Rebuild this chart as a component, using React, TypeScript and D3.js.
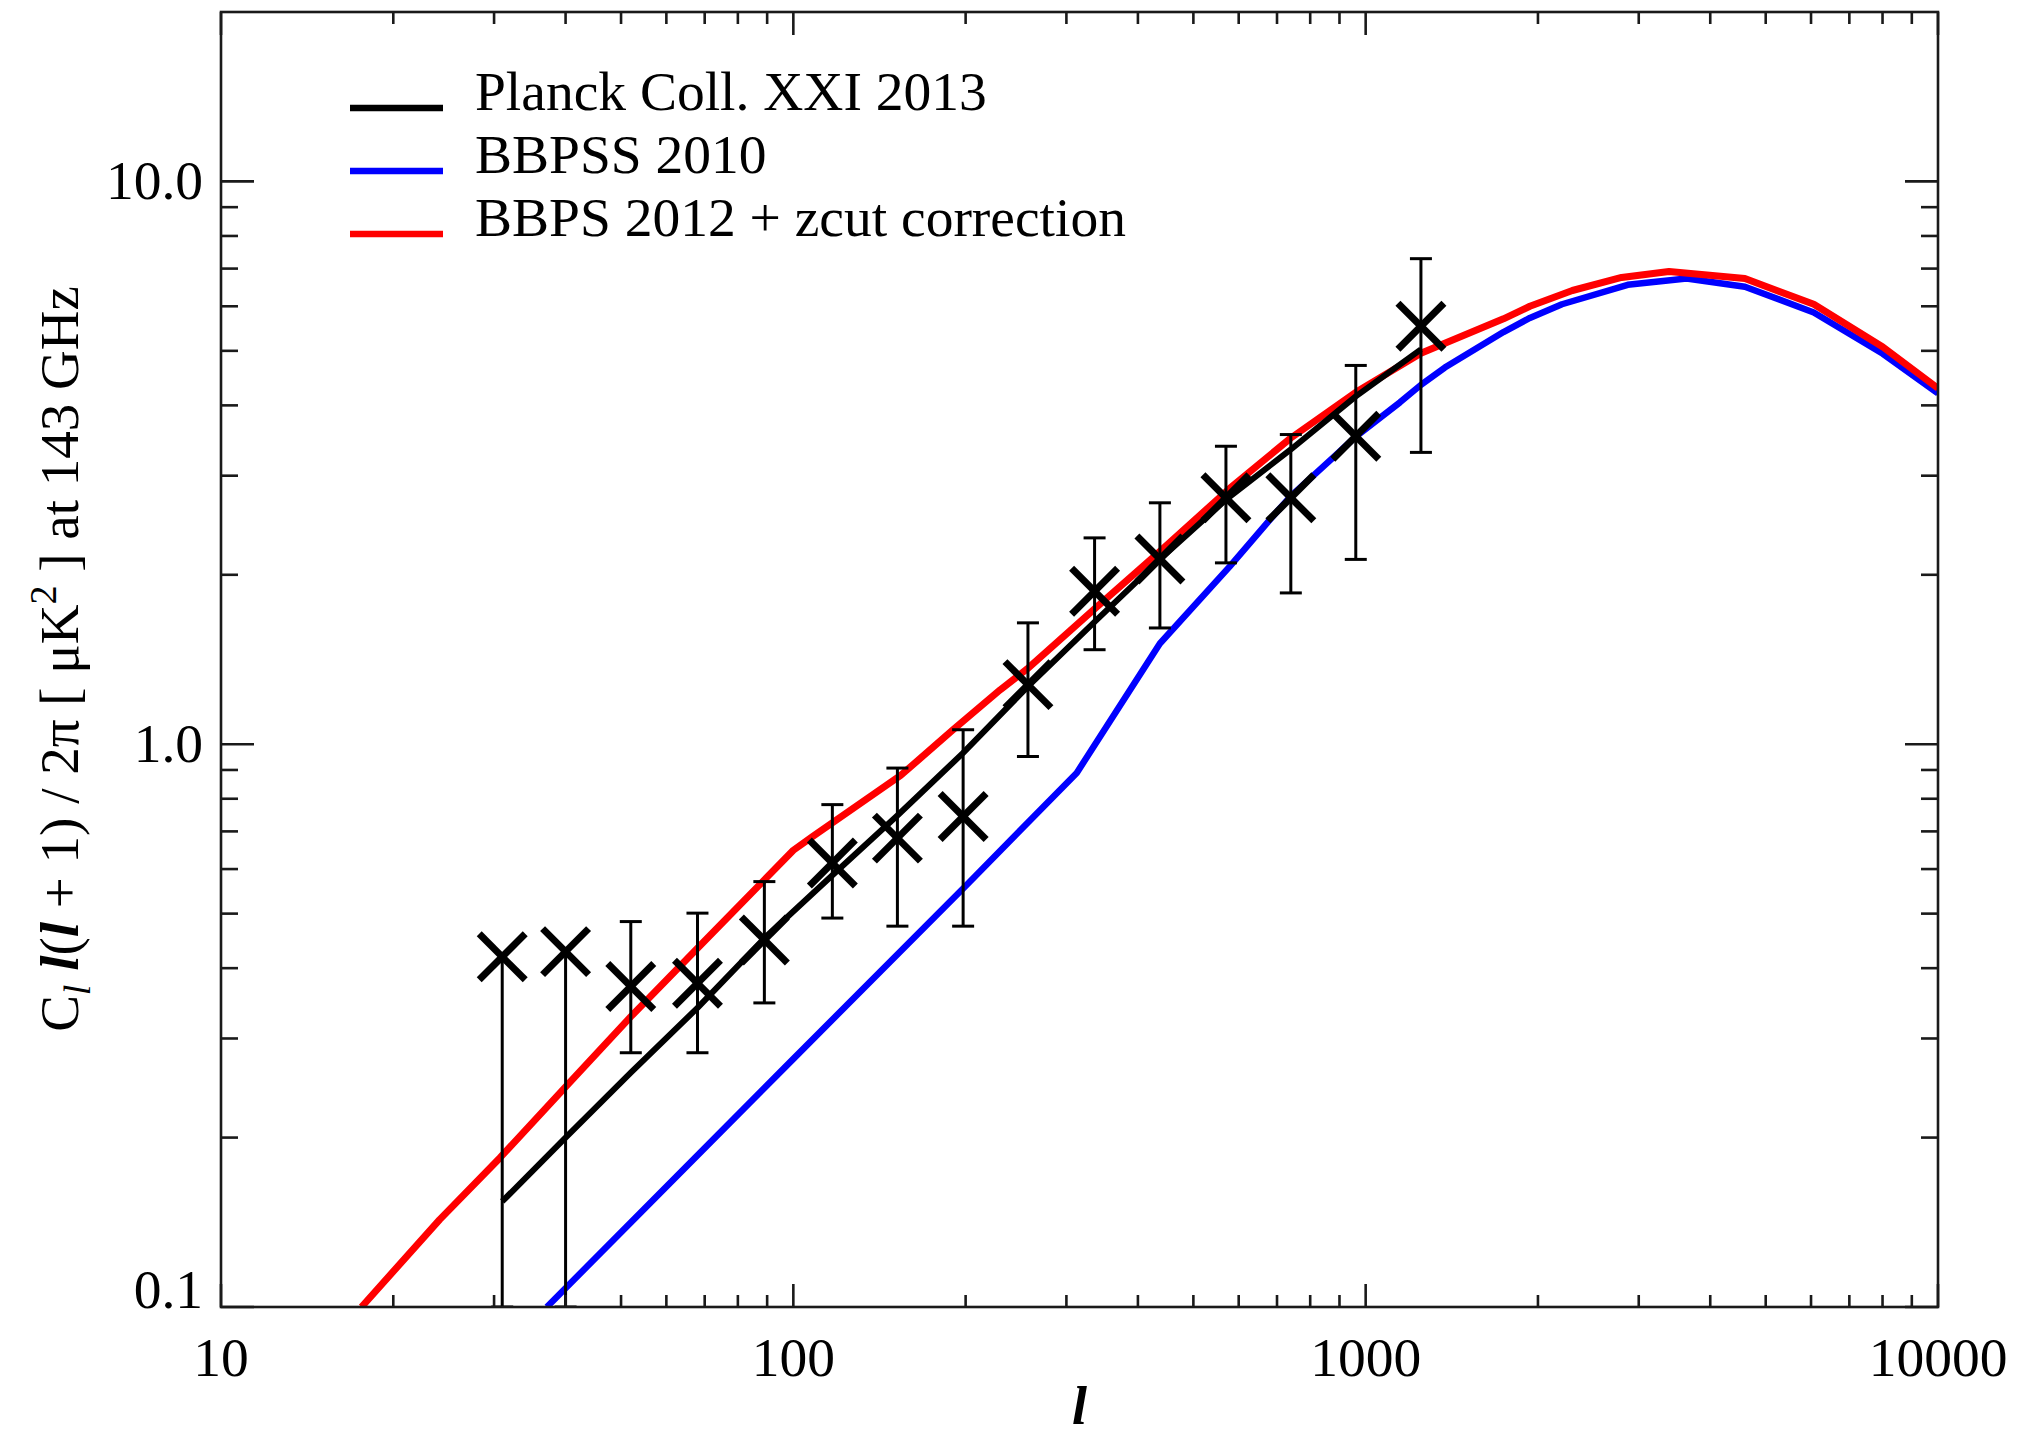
import React from "react";
import * as d3 from "d3";

// ---- data ----
const binL = [31, 40, 52, 68, 89, 117, 152, 198, 257, 336, 437, 570, 740, 961, 1249];
const planckPts = [0.419, 0.428, 0.371, 0.376, 0.449, 0.615, 0.681, 0.744, 1.276, 1.869, 2.134, 2.74, 2.74, 3.526, 5.53];
const planckHi: (number | null)[] = [null, null, 0.484, 0.501, 0.57, 0.781, 0.907, 1.061, 1.643, 2.326, 2.685, 3.384, 3.55, 4.71, 7.29];
const planckLo = [0.1, 0.1, 0.283, 0.283, 0.347, 0.491, 0.475, 0.475, 0.951, 1.472, 1.609, 2.1, 1.857, 2.13, 3.3];

const planckModel = [0.154, 0.2, 0.261, 0.34, 0.452, 0.585, 0.747, 0.965, 1.267, 1.65, 2.13, 2.72, 3.34, 4.15, 5.03];

const blueL = [37.1, 100, 200, 312.7, 437, 579, 681, 740, 877, 961, 1148, 1249, 1375, 1741, 1936, 2203, 2870, 3637, 4598, 6067, 8010, 10000];
const blueV = [0.1, 0.276, 0.56, 0.889, 1.51, 2.07, 2.51, 2.76, 3.23, 3.52, 4.05, 4.35, 4.67, 5.4, 5.72, 6.05, 6.55, 6.72, 6.5, 5.85, 4.94, 4.2];

const redL = [17.6, 24.1, 30.7, 40, 52, 68, 89, 100, 108, 154, 190, 230, 256, 336, 437, 579, 740, 961, 1249, 1741, 1936, 2297, 2800, 3388, 4598, 6067, 8010, 10000];
const redV = [0.1, 0.143, 0.184, 0.246, 0.328, 0.434, 0.574, 0.648, 0.685, 0.88, 1.06, 1.25, 1.36, 1.74, 2.2, 2.85, 3.5, 4.22, 4.95, 5.7, 6.0, 6.4, 6.75, 6.92, 6.72, 6.05, 5.08, 4.29];

const xMajor = [10, 100, 1000, 10000];
const xMajorLabels = ["10", "100", "1000", "10000"];
const yMajor = [0.1, 1, 10];
const yMajorLabels = ["0.1", "1.0", "10.0"];

const legendItems = [
  { label: "Planck Coll. XXI 2013", color: "#000000" },
  { label: "BBPSS 2010", color: "#0000ff" },
  { label: "BBPS 2012 + zcut correction", color: "#ff0000" },
];

const W = 2019;
const H = 1438;
const left = 221;
const right = 1938;
const top = 12;
const bottom = 1307;
const FONT = "'Liberation Serif', 'Times New Roman', serif";

export default function App() {
  const x = d3.scaleLog().domain([10, 10000]).range([left, right]);
  const y = d3.scaleLog().domain([0.1, 20]).range([bottom, top]);

  const line = d3
    .line<[number, number]>()
    .x((d) => x(d[0]))
    .y((d) => y(d[1]));

  const redPath = line(redL.map((l, i) => [l, redV[i]] as [number, number])) || "";
  const bluePath = line(blueL.map((l, i) => [l, blueV[i]] as [number, number])) || "";
  const blackPath = line(binL.map((l, i) => [l, planckModel[i]] as [number, number])) || "";

  // minor ticks
  const xMinor: number[] = [];
  for (let dec = 10; dec < 10000; dec *= 10) for (let k = 2; k <= 9; k++) xMinor.push(dec * k);
  const yMinor: number[] = [];
  for (let dec = 0.1; dec < 20; dec *= 10)
    for (let k = 2; k <= 9; k++) {
      const v = +(dec * k).toPrecision(3);
      if (v < 20) yMinor.push(v);
    }

  const tickColor = "#1a1a1a";
  const tw = 2.6;
  const fs = 55.5;
  const cross = 23;
  const cap = 11;

  return (
    <svg
      width={W}
      height={H}
      style={{ position: "absolute", left: 0, top: 0, display: "block", background: "#fff" }}
      fontFamily={FONT}
    >
      <defs>
        <clipPath id="plotClip">
          <rect x={left} y={top} width={right - left} height={bottom - top} />
        </clipPath>
      </defs>
      <rect x={0} y={0} width={W} height={H} fill="#fff" />

      {/* curves */}
      <g clipPath="url(#plotClip)" fill="none" strokeLinejoin="round">
        <path d={bluePath} stroke="#0000ff" strokeWidth={6.5} />
        <path d={redPath} stroke="#ff0000" strokeWidth={7} />
        <path d={blackPath} stroke="#000000" strokeWidth={6} />
      </g>

      {/* error bars */}
      <g stroke="#000" strokeWidth={3} clipPath="url(#plotClip)">
        {binL.map((l, i) => {
          const cx = x(l);
          const hi = planckHi[i];
          const yTop = hi == null ? y(planckPts[i]) : y(hi);
          const yBot = y(planckLo[i]);
          return (
            <g key={"eb" + i}>
              <line x1={cx} x2={cx} y1={yTop} y2={yBot} />
              {hi != null && <line x1={cx - cap} x2={cx + cap} y1={yTop} y2={yTop} />}
              <line x1={cx - cap} x2={cx + cap} y1={yBot} y2={yBot} />
            </g>
          );
        })}
      </g>

      {/* crosses */}
      <g stroke="#000" strokeWidth={7}>
        {binL.map((l, i) => {
          const cx = x(l);
          const cy = y(planckPts[i]);
          return (
            <g key={"cx" + i}>
              <line x1={cx - cross} y1={cy - cross} x2={cx + cross} y2={cy + cross} />
              <line x1={cx - cross} y1={cy + cross} x2={cx + cross} y2={cy - cross} />
            </g>
          );
        })}
      </g>

      {/* frame */}
      <rect x={left} y={top} width={right - left} height={bottom - top} fill="none" stroke={tickColor} strokeWidth={2.6} />

      {/* ticks */}
      <g stroke={tickColor} strokeWidth={tw}>
        {xMajor.map((v, i) => (
          <g key={"xM" + i}>
            <line x1={x(v)} x2={x(v)} y1={bottom} y2={bottom - 23} />
            <line x1={x(v)} x2={x(v)} y1={top} y2={top + 23} />
          </g>
        ))}
        {xMinor.map((v, i) => (
          <g key={"xm" + i}>
            <line x1={x(v)} x2={x(v)} y1={bottom} y2={bottom - 12} />
            <line x1={x(v)} x2={x(v)} y1={top} y2={top + 12} />
          </g>
        ))}
        {yMajor.map((v, i) => (
          <g key={"yM" + i}>
            <line x1={left} x2={left + 33} y1={y(v)} y2={y(v)} />
            <line x1={right} x2={right - 33} y1={y(v)} y2={y(v)} />
          </g>
        ))}
        {yMinor.map((v, i) => (
          <g key={"ym" + i}>
            <line x1={left} x2={left + 17} y1={y(v)} y2={y(v)} />
            <line x1={right} x2={right - 17} y1={y(v)} y2={y(v)} />
          </g>
        ))}
      </g>

      {/* tick labels */}
      <g fontSize={fs} fill="#000">
        {xMajor.map((v, i) => (
          <text key={"xl" + i} x={x(v)} y={1376} textAnchor="middle">
            {xMajorLabels[i]}
          </text>
        ))}
        {yMajor.map((v, i) => (
          <text key={"yl" + i} x={203} y={Math.min(y(v) + 18, bottom + 1)} textAnchor="end">
            {yMajorLabels[i]}
          </text>
        ))}
      </g>

      {/* axis titles */}
      <text x={(left + right) / 2} y={1424} textAnchor="middle" fontSize={54} fontStyle="italic" fontWeight="bold">
        l
      </text>
      <text transform={`translate(78, 659) rotate(-90)`} textAnchor="middle" fontSize={55}>
        <tspan>C</tspan>
        <tspan fontStyle="italic" fontSize={38} dy={12}>l</tspan>
        <tspan dy={-12}> </tspan>
        <tspan fontStyle="italic" fontWeight="bold">l</tspan>
        <tspan>(</tspan>
        <tspan fontStyle="italic" fontWeight="bold">l</tspan>
        <tspan> + 1) / 2π [ μK</tspan>
        <tspan fontSize={38} dy={-22}>2</tspan>
        <tspan dy={22}> ] at 143 GHz</tspan>
      </text>

      {/* legend */}
      <g>
        {legendItems.map((it, i) => {
          const ly = 108 + i * 63;
          return (
            <g key={"lg" + i}>
              <line x1={350} x2={443} y1={ly} y2={ly} stroke={it.color} strokeWidth={6.5} />
              <text x={475} y={ly + 2} fontSize={fs} fill="#000">
                {it.label}
              </text>
            </g>
          );
        })}
      </g>
    </svg>
  );
}
